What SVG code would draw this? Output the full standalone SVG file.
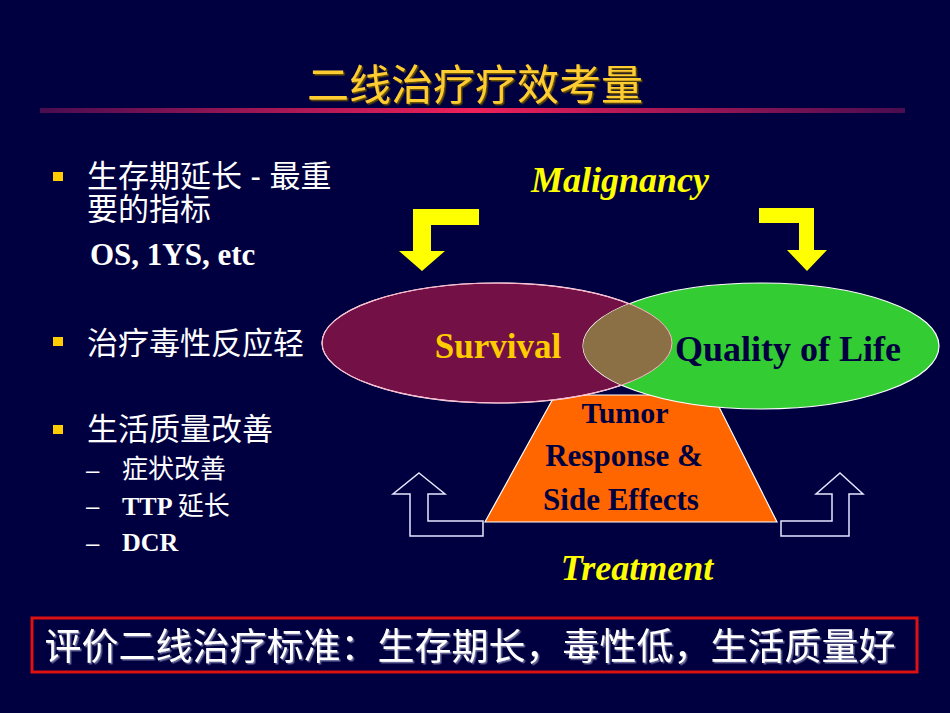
<svg xmlns="http://www.w3.org/2000/svg" width="950" height="713" viewBox="0 0 950 713">
<defs>
<style>
.cjk{font-family:"Liberation Sans","Noto Sans CJK SC",sans-serif;fill:#ffffff}
.ser{font-family:"Liberation Serif","Noto Sans CJK SC",serif;font-weight:bold}
.yi{font-family:"Liberation Serif",serif;font-weight:bold;font-style:italic;fill:#ffff00;text-anchor:middle}
.bul{fill:#ffcc00}
.out{fill:none;stroke:#e6e6ff;stroke-width:1.5}
.yel{fill:#ffff00}
</style>
<linearGradient id="ul" x1="0" y1="0" x2="1" y2="0">
<stop offset="0" stop-color="#4a0c50"/>
<stop offset="0.5" stop-color="#f0205a"/>
<stop offset="1" stop-color="#4a0c50"/>
</linearGradient>
<filter id="shT" x="-5%" y="-20%" width="110%" height="140%">
<feDropShadow dx="1.5" dy="1.5" stdDeviation="0.3" flood-color="#6b5200" flood-opacity="1"/>
</filter>
<filter id="shW" x="-5%" y="-20%" width="110%" height="140%">
<feDropShadow dx="1.5" dy="1.5" stdDeviation="0.3" flood-color="#7070a0" flood-opacity="1"/>
</filter>
<clipPath id="clipL"><ellipse cx="497" cy="343" rx="175" ry="60"/></clipPath>
</defs>
<rect x="0" y="0" width="950" height="713" fill="#000040"/>

<g id="title">
<text x="475" y="100" font-size="42" text-anchor="middle" font-family="Liberation Sans,'Noto Sans CJK SC',sans-serif" fill="#ffcc33" filter="url(#shT)">二线治疗疗效考量</text>
<rect x="40" y="108" width="865" height="5" fill="url(#ul)"/>
</g>

<g id="bullets">
<rect class="bul" x="53" y="172" width="10" height="9"/>
<text class="cjk" x="87" y="187" font-size="31">生存期延长 - 最重</text>
<text class="cjk" x="87" y="220" font-size="31">要的指标</text>
<text class="ser" x="90" y="265" font-size="31" fill="#ffffff">OS, 1YS, etc</text>
<rect class="bul" x="53" y="337" width="10" height="9"/>
<text class="cjk" x="87" y="354" font-size="31">治疗毒性反应轻</text>
<rect class="bul" x="53" y="425" width="10" height="9"/>
<text class="cjk" x="87" y="440" font-size="31">生活质量改善</text>
<text class="cjk" x="86" y="478" font-size="24">–</text>
<text class="cjk" x="122" y="478" font-size="26">症状改善</text>
<text class="cjk" x="86" y="514" font-size="24">–</text>
<text class="ser" x="122" y="515" font-size="26" fill="#ffffff">TTP <tspan font-family="Liberation Sans,'Noto Sans CJK SC',sans-serif" font-weight="normal">延长</tspan></text>
<text class="cjk" x="86" y="551" font-size="24">–</text>
<text class="ser" x="122" y="551" font-size="26" fill="#ffffff">DCR</text>
</g>

<g id="malignancy">
<text class="yi" x="620" y="192" font-size="36">Malignancy</text>
</g>

<g id="arrows-down">
<path class="yel" d="M413,209 L479,209 L479,225 L431,225 L431,251 L445,251 L422,271 L399,251 L413,251 Z"/>
<path class="yel" d="M759,208 L814,208 L814,250 L827,250 L807,271 L787,250 L799,250 L799,223 L759,223 Z"/>
</g>

<g id="tumor">
<path d="M555,395 L713,395 L777,522 L485,522 Z" fill="#ff6600" stroke="#ffffff" stroke-width="1.2"/>
<text class="ser" x="625" y="423" font-size="30" text-anchor="middle" fill="#000040">Tumor</text>
<text class="ser" x="624" y="466" font-size="31" text-anchor="middle" fill="#000040">Response &amp;</text>
<text class="ser" x="621" y="510" font-size="31" text-anchor="middle" fill="#000040">Side Effects</text>
</g>

<g id="survival">
<ellipse cx="497" cy="343" rx="175" ry="60" fill="#731046" stroke="#ffffff" stroke-width="1.2"/>
</g>
<g id="quality">
<ellipse cx="761" cy="346" rx="178" ry="63" fill="#33cc33" stroke="#ffffff" stroke-width="1.2"/>
<ellipse cx="761" cy="346" rx="178" ry="63" fill="#8b7046" clip-path="url(#clipL)"/>
<ellipse cx="497" cy="343" rx="175" ry="60" fill="none" stroke="#ffb0c8" stroke-width="1"/>
<text class="ser" x="498" y="358" font-size="35" text-anchor="middle" fill="#ffcc00">Survival</text>
<text class="ser" x="788" y="361" font-size="36" text-anchor="middle" fill="#000040">Quality of Life</text>
</g>

<g id="connectors">
<path class="out" d="M419,473 L445,494 L428,494 L428,521 L483,521 L483,536 L410,536 L410,494 L393,494 Z"/>
<path class="out" d="M840,473 L863,494 L849,494 L849,536 L781,536 L781,521 L832,521 L832,494 L816,494 Z"/>
</g>

<g id="treatment">
<text class="yi" x="637" y="580" font-size="36">Treatment</text>
</g>

<g id="summary">
<rect x="32" y="618" width="885" height="54" fill="none" stroke="#dd1111" stroke-width="3"/>
<text x="470" y="660" font-size="37" text-anchor="middle" font-family="Liberation Sans,'Noto Sans CJK SC',sans-serif" fill="#ffffff" filter="url(#shW)">评价二线治疗标准：生存期长，毒性低，生活质量好</text>
</g>
</svg>
